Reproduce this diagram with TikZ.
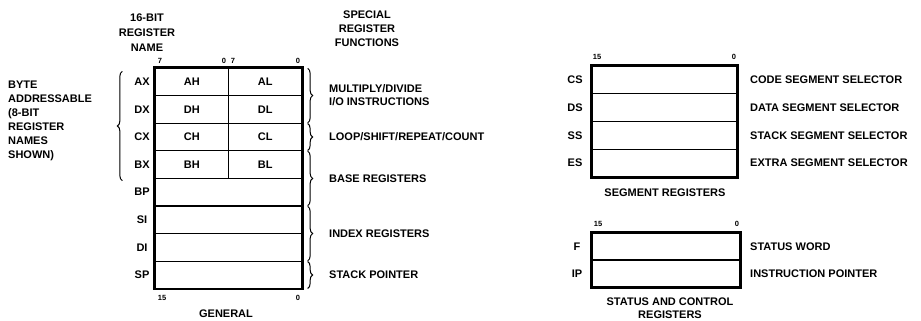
\documentclass[tikz,border=0pt]{standalone}
\usepackage{fontspec}
\setmainfont{Liberation Sans}
\usetikzlibrary{decorations.pathreplacing}
\begin{document}
\begin{tikzpicture}[x=1pt,y=-1pt,
  every node/.style={font=\fontsize{11}{13}\selectfont\bfseries, inner sep=0pt},
  lbl/.style={anchor=west, align=left},
  bit/.style={font=\fontsize{7.5}{8}\selectfont\bfseries},
  cell/.style={draw, line width=1.3pt, minimum height=27.6pt, inner sep=0pt},
  half/.style={cell, minimum width=73.5pt},
  full/.style={cell, minimum width=147pt},
  outer/.style={draw, line width=1.9pt},
  brc/.style={decorate, decoration={brace, amplitude=5pt}, line width=1pt}]
\useasboundingbox (0,0) rectangle (921,321);

% ---------- general registers ----------
\node[align=center, font=\fontsize{11}{15}\selectfont\bfseries] (tname) at (147,33) {16-BIT\\REGISTER\\NAME};
\node[align=center, font=\fontsize{11}{14}\selectfont\bfseries] (tspec) at (367,29) {SPECIAL\\REGISTER\\FUNCTIONS};

\node[half] (AH) at (191.75,81.8) {AH};
\node[half] (AL) at (265.25,81.8) {AL};
\node[half] (DH) at (191.75,109.4) {DH};
\node[half] (DL) at (265.25,109.4) {DL};
\node[half] (CH) at (191.75,137) {CH};
\node[half] (CL) at (265.25,137) {CL};
\node[half] (BH) at (191.75,164.6) {BH};
\node[half] (BL) at (265.25,164.6) {BL};
\node[full] (BP) at (228.5,192.2) {};
\node[full] (SI) at (228.5,219.8) {};
\node[full] (DI) at (228.5,247.4) {};
\node[full] (SP) at (228.5,275) {};
\draw[outer] (AH.north west) rectangle (SP.south east);

\node (lAX) at (142,81.8) {AX};
\node (lDX) at (142,109.4) {DX};
\node (lCX) at (142,137) {CX};
\node (lBX) at (142,164.6) {BX};
\node (lBP) at (142,192.2) {BP};
\node (lSI) at (142,219.8) {SI};
\node (lDI) at (142,247.4) {DI};
\node (lSP) at (142,275) {SP};

\node[bit] (b7a) at (160,61) {7};
\node[bit] (b0a) at (224,61) {0};
\node[bit] (b7b) at (233,61) {7};
\node[bit] (b0b) at (298,61) {0};
\node[bit] (b15g) at (162,298) {15};
\node[bit] (b0g) at (298,298) {0};
\node (tgen) at (226,314) {GENERAL};

\draw[brc] ([xshift=-32pt,yshift=-1.6pt]BH.south west) -- ([xshift=-32pt,yshift=-4pt]AH.north west);
\node[lbl, font=\fontsize{11}{14}\selectfont\bfseries] (tbyte) at (8,121) {BYTE\\ADDRESSABLE\\(8-BIT\\REGISTER\\NAMES\\SHOWN)};

\draw[brc] ([xshift=5pt,yshift=-1pt]AL.north east) -- ([xshift=5pt,yshift=1pt]DL.south east);
\draw[brc] ([xshift=5pt,yshift=-1pt]CL.north east) -- ([xshift=5pt,yshift=1pt]CL.south east);
\draw[brc] ([xshift=5pt,yshift=-1pt]BL.north east) -- ([xshift=5pt,yshift=1pt]BP.south east);
\draw[brc] ([xshift=5pt,yshift=-1pt]SI.north east) -- ([xshift=5pt,yshift=1pt]DI.south east);
\draw[brc] ([xshift=5pt,yshift=-1pt]SP.north east) -- ([xshift=5pt,yshift=1pt]SP.south east);

\node[lbl] (fmul) at (329,95.6) {MULTIPLY/DIVIDE\\I/O INSTRUCTIONS};
\node[lbl] (floop) at (329,137) {LOOP/SHIFT/REPEAT/COUNT};
\node[lbl] (fbase) at (329,178.4) {BASE REGISTERS};
\node[lbl] (findex) at (329,233.6) {INDEX REGISTERS};
\node[lbl] (fstack) at (329,275) {STACK POINTER};

% ---------- segment registers ----------
\tikzset{seg/.style={draw, line width=1.3pt, minimum width=145pt, minimum height=27.75pt}}
\node[seg] (CS) at (664.5,79.9) {};
\node[seg] (DS) at (664.5,107.6) {};
\node[seg] (SS) at (664.5,135.4) {};
\node[seg] (ES) at (664.5,163.1) {};
\draw[outer] (CS.north west) rectangle (ES.south east);
\node (lCS) at (575,79.9) {CS};
\node (lDS) at (575,107.6) {DS};
\node (lSS) at (575,135.4) {SS};
\node (lES) at (575,163.1) {ES};
\node[bit] (b15s) at (597,57) {15};
\node[bit] (b0s) at (734,57) {0};
\node[lbl] (dCS) at (750,79.9) {CODE SEGMENT SELECTOR};
\node[lbl] (dDS) at (750,107.6) {DATA SEGMENT SELECTOR};
\node[lbl] (dSS) at (750,135.4) {STACK SEGMENT SELECTOR};
\node[lbl] (dES) at (750,163.1) {EXTRA SEGMENT SELECTOR};
\node (tseg) at (665,193) {SEGMENT REGISTERS};

% ---------- status and control ----------
\tikzset{stat/.style={draw, line width=1.3pt, minimum width=148pt, minimum height=27pt}}
\node[stat] (F) at (666,246.5) {};
\node[stat] (IP) at (666,273.5) {};
\draw[outer] (F.north west) rectangle (IP.south east);
\node (lF) at (577,246.5) {F};
\node (lIP) at (577,273.5) {IP};
\node[bit] (b15f) at (598,224) {15};
\node[bit] (b0f) at (737,224) {0};
\node[lbl] (dF) at (750,246.5) {STATUS WORD};
\node[lbl] (dIP) at (750,273.5) {INSTRUCTION POINTER};
\node[align=center] (tstat) at (670,308) {STATUS AND CONTROL\\REGISTERS};
\end{tikzpicture}
\end{document}
